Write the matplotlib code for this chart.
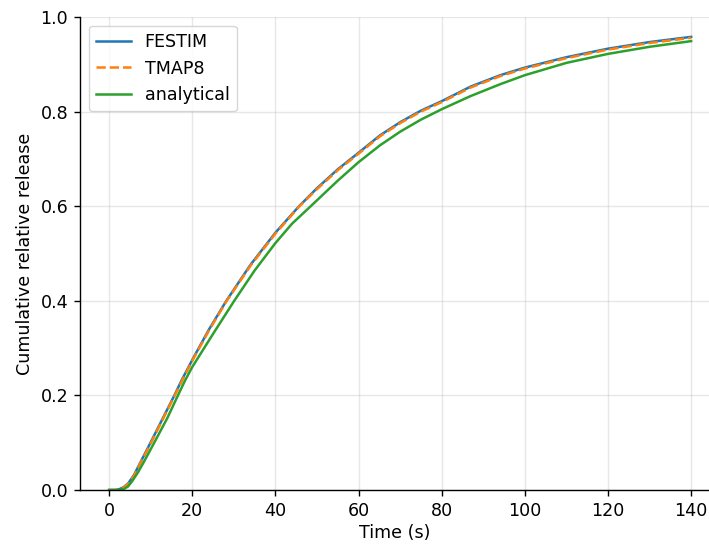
import matplotlib
matplotlib.use("Agg")
import matplotlib.pyplot as plt

# values
t_festim = [0, 1.5, 2.5, 3.5, 4.6, 6, 7.8, 10.3, 13, 15.7, 17.5, 20, 24, 28.2,
            34, 40, 45.7, 50, 55, 60, 65.2, 70.1, 75, 80, 87, 94.1, 100, 110,
            120, 130, 140]
y_festim = [0, 0, 0.002, 0.006, 0.014, 0.032, 0.063, 0.106, 0.153, 0.2, 0.233,
            0.275, 0.339, 0.4, 0.476, 0.544, 0.6, 0.638, 0.678, 0.713, 0.75,
            0.778, 0.802, 0.822, 0.853, 0.877, 0.893, 0.915, 0.933, 0.947, 0.958]

t_tmap8 = [0, 1.6, 2.6, 3.6, 4.7, 6.1, 7.9, 10.4, 13, 15.8, 17.6, 20, 24, 28.3,
           34, 40, 45.8, 50, 55, 60, 65.2, 70.1, 75, 80, 87, 94.1, 100, 110,
           120, 130, 140]
y_tmap8 = [0, 0, 0.002, 0.006, 0.014, 0.032, 0.063, 0.105, 0.151, 0.2, 0.232,
           0.273, 0.337, 0.4, 0.474, 0.542, 0.6, 0.636, 0.676, 0.711, 0.748,
           0.776, 0.8, 0.82, 0.851, 0.875, 0.891, 0.913, 0.931, 0.945, 0.956]

t_analytical = [0, 2.6, 3.5, 4.5, 5.5, 7, 8.4, 11.1, 14, 16.4, 18.3, 20, 25,
                30.1, 35, 40, 44, 48.5, 55, 60, 65.2, 70.1, 75, 80, 87, 94.1,
                100, 110, 120, 130, 140]
y_analytical = [0, 0, 0.002, 0.007, 0.018, 0.038, 0.06, 0.104, 0.152, 0.197,
                0.232, 0.26, 0.33, 0.4, 0.464, 0.522, 0.563, 0.6, 0.654, 0.693,
                0.729, 0.758, 0.783, 0.805, 0.833, 0.858, 0.877, 0.903, 0.922,
                0.937, 0.949]

plt.rcParams["font.size"] = 12.6
plt.rcParams["lines.linewidth"] = 1.8

fig = plt.figure(figsize=(7.09, 5.45), dpi=100)
ax = fig.add_axes([80 / 709, 55 / 545, 629 / 709, 473 / 545])

ax.plot(t_festim, y_festim, color="tab:blue", label="FESTIM")
ax.plot(t_tmap8, y_tmap8, color="tab:orange", linestyle="--", label="TMAP8")
ax.plot(t_analytical, y_analytical, color="tab:green", label="analytical")

ax.set_xlim(-7, 144.3)
ax.set_ylim(0, 1)
ax.set_xlabel("Time (s)", labelpad=3)
ax.set_ylabel("Cumulative relative release", labelpad=5)
ax.grid(alpha=0.3, linewidth=1.0)
ax.tick_params(width=1.0, length=4.4, pad=4)
for s in ["left", "bottom"]:
    ax.spines[s].set_linewidth(1.0)
ax.spines["top"].set_visible(False)
ax.spines["right"].set_visible(False)
ax.legend(loc="upper left")

fig.savefig("out.png", dpi=100)
